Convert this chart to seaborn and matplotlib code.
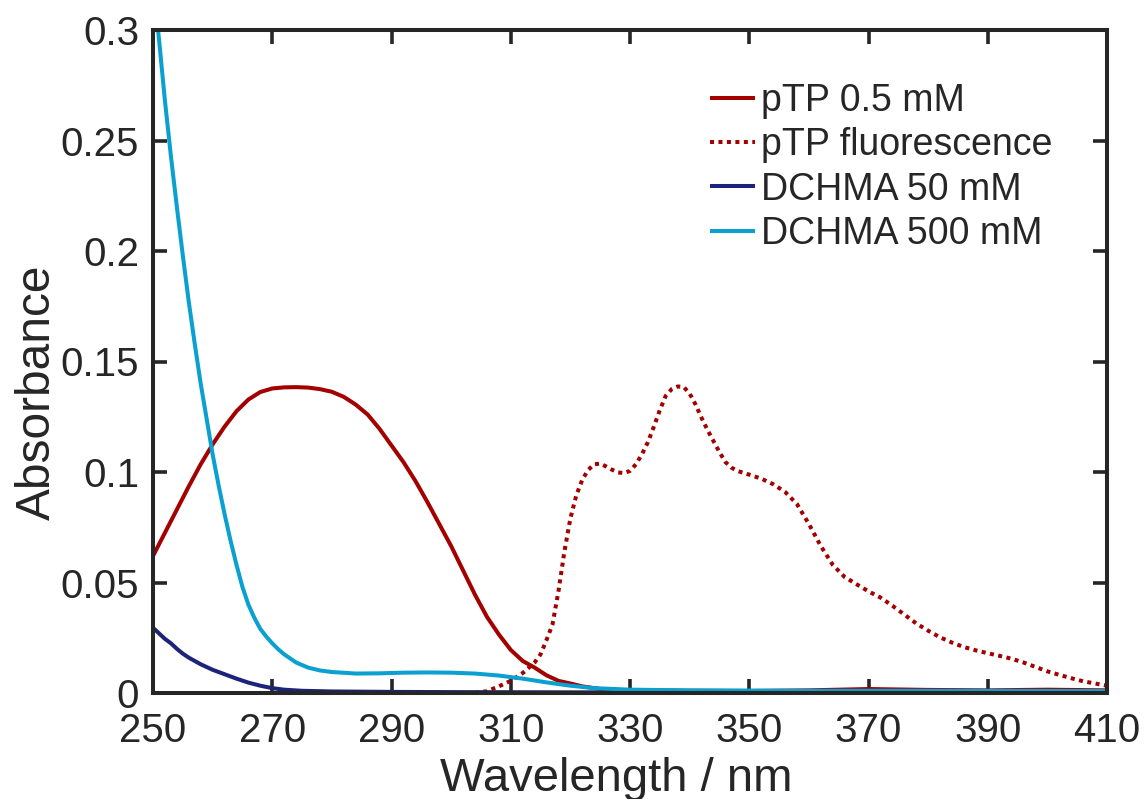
import numpy as np
import pandas as pd
import matplotlib
matplotlib.use("Agg")
import matplotlib.pyplot as plt
import seaborn as sns

# pTP 0.5 mM absorbance
ptp_wl = [250, 252, 254, 256, 258, 260, 262, 264, 266, 268, 270, 272, 274, 276, 278,
          280, 282, 284, 286, 288, 290, 292, 294, 296, 298, 300, 302, 304, 306, 308,
          310, 312, 314, 316, 318, 320, 322, 325, 330, 340, 350, 360, 370, 380, 390,
          400, 410]
ptp_abs = [0.062, 0.0725, 0.083, 0.0935, 0.1035, 0.1125, 0.1205, 0.1275, 0.1328, 0.1362,
           0.1378, 0.1383, 0.1384, 0.1382, 0.1375, 0.1363, 0.134, 0.1305, 0.126,
           0.1195, 0.112, 0.1045, 0.096, 0.0865, 0.0765, 0.0665, 0.0555, 0.0445,
           0.0345, 0.0265, 0.0195, 0.0145, 0.0115, 0.008, 0.0055, 0.0043, 0.003,
           0.0018, 0.0012, 0.001, 0.0009, 0.0012, 0.0018, 0.0014, 0.0012, 0.0015,
           0.0012]

# pTP fluorescence (scaled)
fl_wl = [304, 306, 308, 310, 312, 314, 315, 316, 317, 318, 319, 320, 321, 322, 323,
         324, 325, 326, 327, 328, 329, 330, 331, 332, 333, 334, 335, 336, 337, 338,
         339, 340, 341, 342, 343, 344, 345, 346, 347, 348, 350, 352, 354, 356, 358,
         360, 362, 364, 366, 368, 370, 372, 374, 376, 378, 380, 382, 384, 386, 388,
         390, 392, 394, 396, 398, 400, 402, 404, 406, 408, 410]
fl_int = [0.0, 0.0008, 0.003, 0.0055, 0.009, 0.0138, 0.0175, 0.024, 0.031, 0.046,
          0.064, 0.079, 0.0895, 0.0965, 0.101, 0.1035, 0.1038, 0.1025, 0.101, 0.0998,
          0.0995, 0.1005, 0.1035, 0.108, 0.1135, 0.1205, 0.128, 0.1345, 0.1375,
          0.1387, 0.1385, 0.1355, 0.1305, 0.1245, 0.119, 0.114, 0.109, 0.1045,
          0.102, 0.1005, 0.0988, 0.097, 0.0945, 0.091, 0.0855, 0.0765, 0.0665,
          0.058, 0.0525, 0.0492, 0.046, 0.0432, 0.0395, 0.0355, 0.0315, 0.0282,
          0.0252, 0.0228, 0.0208, 0.0193, 0.018, 0.0168, 0.0155, 0.0138, 0.0118,
          0.0098, 0.0082, 0.0067, 0.0053, 0.0043, 0.0033]

# DCHMA 50 mM absorbance
d50_wl = [250, 251, 252, 253, 254, 255, 256, 258, 260, 262, 264, 266, 268, 270, 272,
          275, 280, 290, 300, 320, 350, 380, 410]
d50_abs = [0.0295, 0.027, 0.0245, 0.0225, 0.020, 0.0178, 0.016, 0.013, 0.0105,
           0.0085, 0.0065, 0.0047, 0.0033, 0.0022, 0.0015, 0.001, 0.0007, 0.0005,
           0.0004, 0.0003, 0.0003, 0.0003, 0.0003]

# DCHMA 500 mM absorbance
d500_wl = [250, 251, 252, 253, 254, 255, 256, 257, 258, 259, 260, 261, 262, 263, 264,
           265, 266, 267, 268, 269, 270, 271, 272, 274, 276, 278, 280, 284, 288, 292,
           296, 300, 304, 308, 312, 316, 320, 324, 330, 340, 360, 380, 410]
d500_abs = [0.322, 0.296, 0.268, 0.243, 0.220, 0.198, 0.177, 0.158, 0.140, 0.124,
            0.108, 0.094, 0.081, 0.069, 0.058, 0.048, 0.040, 0.034, 0.029, 0.0255,
            0.0225, 0.0198, 0.0175, 0.0138, 0.0115, 0.0102, 0.0095, 0.0088, 0.0089,
            0.0092, 0.0093, 0.0092, 0.0088, 0.0079, 0.0065, 0.0048, 0.0033, 0.0022,
            0.0015, 0.0012, 0.001, 0.001, 0.0009]

labels = ["pTP 0.5 mM", "pTP fluorescence", "DCHMA 50 mM", "DCHMA 500 mM"]
colors = ["#A30000", "#A30000", "#1B237A", "#0AA0D0"]
styles = ["-", (0, (1, 1.1)), "-", "-"]

x_ticks = [250, 270, 290, 310, 330, 350, 370, 390, 410]
y_ticks = [0, 0.05, 0.1, 0.15, 0.2, 0.25, 0.3]
y_ticklabels = ["0", "0.05", "0.1", "0.15", "0.2", "0.25", "0.3"]

sns.set_style("ticks")
plt.rcParams["font.family"] = ["Liberation Sans", "DejaVu Sans"]
frame_col = "#262626"

fig = plt.figure(figsize=(11.45, 7.99), dpi=100)
ax = fig.add_axes([153 / 1145, 1 - 693 / 799, (1107 - 153) / 1145, (693 - 30) / 799])

series = [(ptp_wl, ptp_abs), (fl_wl, fl_int), (d50_wl, d50_abs), (d500_wl, d500_abs)]
for (wl, val), lab, col, ls in zip(series, labels, colors, styles):
    df = pd.DataFrame({"Wavelength": wl, "Value": val})
    sns.lineplot(data=df, x="Wavelength", y="Value", ax=ax, color=col,
                 linewidth=2.9, label=lab, linestyle=ls, sort=True)
for line in ax.get_lines():
    line.set_solid_capstyle("butt")
    line.set_dash_capstyle("butt")
    line.set_solid_joinstyle("round")

ax.set_xlim(250, 410)
ax.set_ylim(0, 0.3)
ax.set_xticks(x_ticks)
ax.set_yticks(y_ticks)
ax.set_yticklabels(y_ticklabels)
ax.tick_params(direction="in", length=10, width=2.6, colors=frame_col,
               labelsize=29, top=True, right=True)
ax.tick_params(axis="y", pad=10)
ax.tick_params(axis="x", pad=14)
for sp in ax.spines.values():
    sp.set_linewidth(2.9)
    sp.set_color(frame_col)

ax.set_xlabel("Wavelength / nm", fontsize=34, color=frame_col)
ax.xaxis.set_label_coords(0.486, -0.097)
ax.set_ylabel("Absorbance", fontsize=34.5, color=frame_col)
ax.yaxis.set_label_coords(-0.098, 0.453)

ax.legend(loc="upper left", bbox_to_anchor=(710 / 1145, 1 - 83 / 799),
          bbox_transform=fig.transFigure, frameon=False, fontsize=27,
          handlelength=1.2, handletextpad=0.15, labelspacing=0.22,
          borderpad=0, borderaxespad=0)

fig.savefig("out.png", dpi=100)
